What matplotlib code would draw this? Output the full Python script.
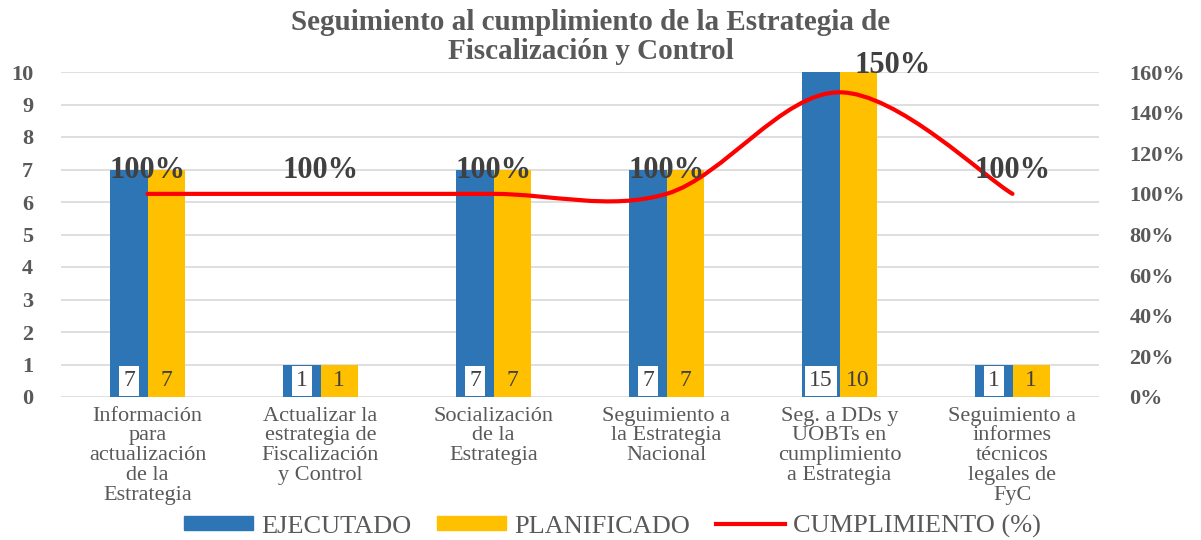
import matplotlib
matplotlib.use("Agg")
import matplotlib.pyplot as plt
from matplotlib.path import Path
from matplotlib.patches import PathPatch
from matplotlib.lines import Line2D
from matplotlib.ticker import FuncFormatter, MultipleLocator

plt.rcParams['font.family'] = ['Liberation Serif', 'DejaVu Serif']

# datos
titulo = ["Seguimiento al cumplimiento de la Estrategia de", "Fiscalización y Control"]
categorias = [
    "Información\npara\nactualización\nde la\nEstrategia",
    "Actualizar la\nestrategia de\nFiscalización\ny Control",
    "Socialización\nde la\nEstrategia",
    "Seguimiento a\nla Estrategia\nNacional",
    "Seg. a DDs y\nUOBTs en\ncumplimiento\na Estrategia",
    "Seguimiento a\ninformes\ntécnicos\nlegales de\nFyC",
]
ejecutado = [7, 1, 7, 7, 15, 1]
planificado = [7, 1, 7, 7, 10, 1]
cumplimiento = [1.00, 1.00, 1.00, 1.00, 1.50, 1.00]

AZUL = "#2E75B6"
AMARILLO = "#FFC000"
ROJO = "#FF0000"
GRIS = "#595959"
GRIS_OSC = "#404040"


def curva_suave(xs, ys):
    '''Curva tipo Excel (Catmull-Rom -> Bezier) que pasa por los puntos.'''
    n = len(xs)
    verts = [(xs[0], ys[0])]
    codes = [Path.MOVETO]
    for i in range(n - 1):
        x0, y0 = (xs[i - 1], ys[i - 1]) if i > 0 else (xs[i], ys[i])
        x1, y1 = xs[i], ys[i]
        x2, y2 = xs[i + 1], ys[i + 1]
        x3, y3 = (xs[i + 2], ys[i + 2]) if i + 2 < n else (xs[i + 1], ys[i + 1])
        c1 = (x1 + (x2 - x0) / 6, y1 + (y2 - y0) / 6)
        c2 = (x2 - (x3 - x1) / 6, y2 - (y3 - y1) / 6)
        verts += [c1, c2, (x2, y2)]
        codes += [Path.CURVE4] * 3
    return Path(verts, codes)


fig = plt.figure(figsize=(12.01, 5.4), dpi=100)
ax = fig.add_axes([61 / 1201, 143 / 540, 1038 / 1201, 325 / 540])
x = list(range(len(categorias)))
w = 0.214

ax.bar([i - w / 2 for i in x], ejecutado, w, color=AZUL, zorder=2)
ax.bar([i + w / 2 for i in x], planificado, w, color=AMARILLO, zorder=2)
ax.set_ylim(0, 10)
ax.set_xlim(-0.5, len(categorias) - 0.5)
ax.yaxis.set_major_locator(MultipleLocator(1))
ax.grid(axis="y", color="#D9D9D9", lw=1.2, zorder=0)
ax.set_axisbelow(True)
for s in ax.spines.values():
    s.set_visible(False)
ax.tick_params(axis="both", length=0)
ax.tick_params(axis="y", pad=20)
ax.tick_params(axis="x", pad=7)
ax.set_xticks(x)
ax.set_xticklabels(categorias, fontsize=16, color=GRIS, linespacing=1.05, va="top")
for lbl in ax.get_yticklabels():
    lbl.set_fontsize(16)
    lbl.set_fontweight("bold")
    lbl.set_color(GRIS)

# etiquetas de valores en la base
for i in x:
    ax.text(i - w / 2, 0.5, str(ejecutado[i]), ha="center", va="center", fontsize=17,
            color=GRIS_OSC, zorder=4,
            bbox=dict(boxstyle="square,pad=0.18", fc="white", ec="none"))
    ax.text(i + w / 2, 0.5, str(planificado[i]), ha="center", va="center", fontsize=17,
            color=GRIS_OSC, zorder=4)

ax2 = ax.twinx()
ax2.set_ylim(0, 1.6)
ax2.yaxis.set_major_locator(MultipleLocator(0.2))
ax2.yaxis.set_major_formatter(FuncFormatter(lambda v, p: f"{v * 100:.0f}%"))
for s in ax2.spines.values():
    s.set_visible(False)
ax2.tick_params(axis="y", length=0, pad=22)
for lbl in ax2.get_yticklabels():
    lbl.set_fontsize(16)
    lbl.set_fontweight("bold")
    lbl.set_color(GRIS)

ax2.add_patch(PathPatch(curva_suave(x, cumplimiento), fc="none", ec=ROJO, lw=3,
                        capstyle="round", zorder=5))

for i in x:
    dx = 38 if cumplimiento[i] == max(cumplimiento) else 0
    dy = 19 if cumplimiento[i] == max(cumplimiento) else 17
    ax2.annotate(f"{cumplimiento[i] * 100:.0f}%", (i, cumplimiento[i]),
                 xytext=(dx, dy), textcoords="offset points", ha="center", va="center",
                 fontsize=22, fontweight="bold", color=GRIS_OSC, zorder=6,
                 annotation_clip=False)

# titulo en dos lineas separadas
fig.text(0.492, 0.958, titulo[0], ha="center", va="center", fontsize=21,
         fontweight="bold", color=GRIS)
fig.text(0.492, 0.905, titulo[1], ha="center", va="center", fontsize=21,
         fontweight="bold", color=GRIS)

handles = [
    plt.Rectangle((0, 0), 1, 1, color=AZUL),
    plt.Rectangle((0, 0), 1, 1, color=AMARILLO),
    Line2D([0], [0], color=ROJO, lw=3),
]
fig.legend(handles, ["EJECUTADO", "PLANIFICADO", "CUMPLIMIENTO (%)"],
           loc="center", bbox_to_anchor=(0.51, 0.025), ncol=3, frameon=False,
           prop={"size": 19}, labelcolor=GRIS, handlelength=2.6, handleheight=0.45,
           handletextpad=0.3, columnspacing=1.0)

fig.savefig("out.png", dpi=100)
